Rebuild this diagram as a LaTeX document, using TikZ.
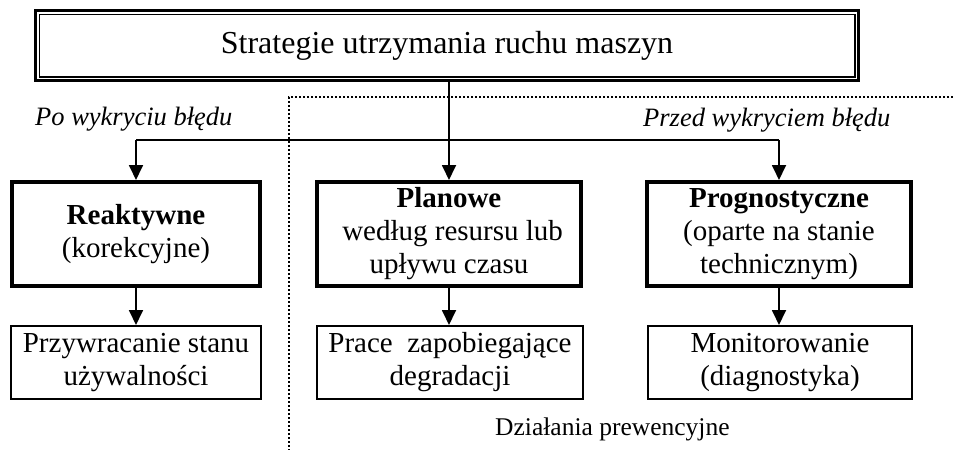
\documentclass[tikz,border=0pt]{standalone}
\usepackage{fontspec}
\setmainfont{Liberation Serif}
\usetikzlibrary{arrows.meta}
\begin{document}
\begin{tikzpicture}[x=1pt,y=-1pt,
  boxfont/.style={font=\fontsize{29}{33}\selectfont},
  strongbox/.style={draw, line width=4pt, minimum height=104pt, inner sep=0pt, align=center, boxfont},
  plainbox/.style={draw, line width=2pt, minimum height=73pt, inner sep=0pt, align=center, boxfont},
  conn/.style={line width=1.8pt},
  arr/.style={conn, -{Triangle[width=14pt,length=15pt]}},
  dots/.style={line width=1.6pt, dash pattern=on 1.6pt off 2.4pt},
  lab/.style={inner sep=0pt, anchor=base west}]
\useasboundingbox (0,0) rectangle (953,450);

% title with a double frame
\node[draw, line width=3pt, minimum width=823pt, minimum height=70pt, inner sep=0pt,
      font=\fontsize{32}{36}\selectfont] (title) at (447,45.6) {Strategie utrzymania ruchu maszyn};
\draw[line width=1.6pt] ([shift={(5.3pt,-5.3pt)}]title.north west) rectangle ([shift={(-5.3pt,5.3pt)}]title.south east);

% boundary of the preventive part
\coordinate (dc) at (289,97);
\coordinate (de) at (953,97);
\coordinate (db) at (289,450);
\draw[dots] (de) -- (dc) -- (db);

% strategy boxes
\node[strongbox, minimum width=248pt] (reak) at (136,234) {\textbf{Reaktywne}\\(korekcyjne)};
\node[strongbox, minimum width=264pt] (plan) at (449,234) {\textbf{Planowe}\\\ według resursu lub\\upływu czasu};
\node[strongbox, minimum width=264pt] (prog) at (779,234) {\textbf{Prognostyczne}\\(oparte na stanie\\technicznym)};

% action boxes
\node[plainbox, minimum width=250pt] (rest) at (136,362.5) {Przywracanie stanu\\używalności};
\node[plainbox, minimum width=266pt] (prev) at (450,362.5) {Prace\ \ zapobiegające\\degradacji};
\node[plainbox, minimum width=264pt] (mon) at (780,362.5) {Monitorowanie\\(diagnostyka)};

% connectors
\coordinate (bus) at (0,140);
\draw[arr] (title.south -| plan.north) -- (plan.north);
\draw[conn] (reak.north |- bus) -- (prog.north |- bus);
\draw[arr] (reak.north |- bus) -- (reak.north);
\draw[arr] (prog.north |- bus) -- (prog.north);
\draw[arr] (reak.south) -- (reak.south |- rest.north);
\draw[arr] (plan.south) -- (plan.south |- prev.north);
\draw[arr] (prog.south) -- (prog.south |- mon.north);

% labels
\node[lab, font=\fontsize{26.5}{30}\selectfont\itshape] (after) at (35,125) {Po wykryciu błędu};
\node[lab, font=\fontsize{26.5}{30}\selectfont\itshape] (before) at (643,126) {Przed wykryciem błędu};
\node[lab, font=\fontsize{25.5}{29}\selectfont] (prevlab) at (495,435) {Działania prewencyjne};
\end{tikzpicture}
\end{document}
